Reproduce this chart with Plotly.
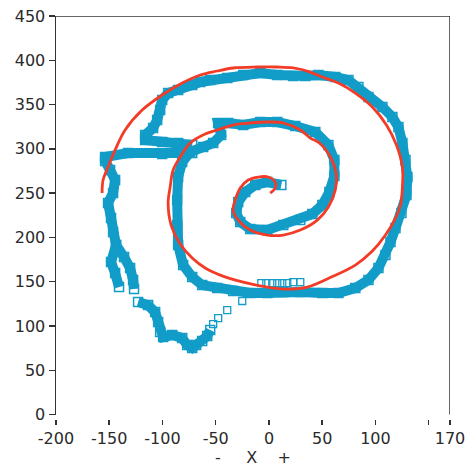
import plotly.graph_objects as go

# Red reference spiral (data units)
spiral_x = [1.2, 5.9, 5.9, -0.7, -10.1, -19.5, -27.0, -31.7, -33.6, -28.9, -17.6, -1.6, 13.4, 29.4, 45.4,
            55.8, 62.3, 63.3, 57.6, 47.3, 38.8, 29.4, 13.4, -1.6, -17.6, -33.6, -48.6, -59.9, -74.0, -83.4,
            -90.0, -92.8, -94.7, -91.9, -83.4, -72.1, -59.9, -45.8, -24.2, -1.6, 17.2, 36.0, 58.6, 81.1,
            97.1, 109.4, 118.8, 123.5, 125.3, 125.3, 119.7, 110.3, 97.1, 81.1, 65.2, 50.1, 38.8, 22.8, 7.8,
            -11.0, -33.6, -48.6, -64.6, -81.5, -100.3, -119.1, -135.1, -144.5, -151.1, -155.8, -156.7]
spiral_y = [250.1, 255.8, 262.5, 268.2, 268.2, 264.8, 255.8, 242.2, 230.9, 219.6, 208.3, 202.7, 202.7, 208.3,
            219.6, 234.3, 253.5, 270.4, 290.8, 306.6, 312.2, 321.3, 329.2, 330.3, 329.2, 326.9, 321.3, 316.7,
            306.6, 290.8, 276.1, 256.9, 238.8, 214.0, 192.5, 176.7, 165.4, 157.5, 149.6, 144.0, 141.7, 144.0,
            155.3, 168.8, 184.6, 202.7, 221.9, 236.6, 256.9, 279.5, 304.3, 326.9, 347.2, 363.0, 374.3, 381.1,
            386.7, 391.3, 392.4, 392.4, 391.3, 387.9, 383.4, 374.3, 360.8, 343.8, 321.3, 298.7, 279.5, 264.8,
            250.1]

# Blue traced path (data units); None separates strokes
trace_x = [11.6, -1.6, -12.9, -22.3, -28.9, -30.7, -27.0, -17.6, -1.6, 13.4, 29.4, 40.7, 50.1, 56.7, 61.4,
           61.4, 55.8, 43.5, 24.7, 7.8, -8.2, -24.2, -38.3, -47.7, -44.9, -52.4, -61.8, -74.0, -81.5, -85.3,
           -86.2, -86.2, -85.3, -80.6, -72.1, -62.7, -48.6, -33.6, -17.6, -1.6, 13.4, 29.4, 50.1, 65.2, 81.1,
           93.4, 102.8, 109.4, 114.1, 118.8, 124.4, 129.1, 130.0, 128.2, 125.3, 121.6, 115.9, 106.5, 93.4,
           84.0, 74.6, 62.3, 46.4, 34.1, 22.8, 7.8, -8.2, -24.2, -39.2, -55.2, -64.6, -72.1, -85.3, -94.7,
           -100.3, -102.2, -105.0, -108.8, -116.3, -116.3, -100.3, -85.3, -72.1,
           None,
           -72.1, -100.3, -132.3, -153.9, -153.9, -149.2, -144.5, -146.4, -151.1, -148.3, -146.4, -143.6,
           -136.1, -130.4, -127.6, -126.7,
           None,
           -143.6, -148.3, -144.5, -140.8,
           None,
           -122.9, -113.5, -106.9, -104.1, -102.2, -99.4, -90.9, -81.5, -76.8, -72.1, -68.4, -62.7, -58.0,
           -55.2]
trace_y = [259.2, 262.5, 259.2, 251.2, 240.0, 227.5, 217.4, 209.5, 208.3, 214.0, 219.6, 226.4, 236.6, 251.2,
           269.3, 287.4, 304.3, 319.0, 325.8, 330.3, 330.3, 326.9, 329.2, 329.2, 315.6, 306.6, 302.1, 296.4,
           285.1, 268.2, 242.2, 214.0, 191.4, 168.8, 155.3, 146.2, 142.8, 139.5, 137.2, 137.2, 138.3, 138.3,
           137.2, 137.2, 142.8, 151.9, 165.4, 180.1, 194.8, 210.6, 227.5, 247.9, 268.2, 287.4, 306.6, 324.6,
           335.9, 347.2, 358.5, 369.8, 377.7, 381.1, 383.4, 382.2, 382.2, 383.4, 385.6, 383.4, 380.0, 377.7,
           375.5, 372.1, 366.4, 363.0, 355.1, 343.8, 332.6, 323.5, 315.6, 310.0, 307.7, 306.6, 304.3,
           None,
           295.3, 294.2, 295.3, 290.8, 286.3, 276.1, 264.8, 250.1, 238.8, 221.9, 206.1, 191.4,
           177.8, 165.4, 151.9, 141.7,
           None,
           191.4, 172.2, 159.8, 144.0,
           None,
           127.0, 123.6, 115.7, 104.5, 93.2, 87.5, 89.8, 86.4, 78.5, 75.1, 78.5, 83.0, 88.6, 95.4]

# Sparse isolated squares
sparse_x = [-52.4, -47.7, -39.2, -25.1, -7.2, -2.5, 3.1, 7.8, 12.5, 17.2, 22.8, 29.4]
sparse_y = [102.2, 109.0, 118.0, 128.2, 148.5, 148.5, 148.5, 148.5, 148.5, 148.5, 149.6, 149.6]

x_tickvals = [-200, -150, -100, -50, 0, 50, 100, 150, 170]
x_ticktext = ["-200", "-150", "-100", "-50", "0", "50", "100", "", "170"]
y_tickvals = [0, 50, 100, 150, 200, 250, 300, 350, 400, 450]

BLUE = "#129cc8"
RED = "#f23c28"
AX = "#333333"

fig = go.Figure()
fig.add_trace(go.Scatter(
    x=trace_x, y=trace_y, mode="lines+markers", connectgaps=False,
    line=dict(color=BLUE, width=10),
    marker=dict(symbol="square-open", size=9, color=BLUE, line=dict(width=1.5, color=BLUE)),
    hoverinfo="skip", showlegend=False))
fig.add_trace(go.Scatter(
    x=sparse_x, y=sparse_y, mode="markers",
    marker=dict(symbol="square-open", size=7, color=BLUE, line=dict(width=1.3, color=BLUE)),
    hoverinfo="skip", showlegend=False))
fig.add_trace(go.Scatter(
    x=spiral_x, y=spiral_y, mode="lines",
    line=dict(color=RED, width=2.8, shape="spline", smoothing=1.0),
    hoverinfo="skip", showlegend=False))

fig.add_shape(type="line", xref="x", yref="y", x0=-200, x1=170, y0=450, y1=450,
              line=dict(color=AX, width=1.5))
fig.add_shape(type="line", xref="x", yref="y", x0=170, x1=170, y0=-2, y1=450,
              line=dict(color=AX, width=1.5))

fig.update_layout(
    width=468, height=472,
    margin=dict(l=56, r=18, t=16, b=53, autoexpand=False),
    paper_bgcolor="white", plot_bgcolor="white",
    font=dict(family="DejaVu Sans", size=16, color="#2a2a2a"),
    xaxis=dict(range=[-200, 170], tickvals=x_tickvals, ticktext=x_ticktext,
               showgrid=False, zeroline=False, showline=False, automargin=False,
               ticks="outside", ticklen=5, tickwidth=1.5, tickcolor=AX,
               anchor="free", position=0,
               title=dict(text="-\u00a0\u00a0\u00a0\u00a0\u00a0X\u00a0\u00a0\u00a0\u00a0+",
                          standoff=4, font=dict(size=16))),
    yaxis=dict(range=[0, 450], tickvals=y_tickvals, domain=[0.011, 1], automargin=False,
               showgrid=False, zeroline=False, showline=True, linecolor=AX, linewidth=1.5,
               ticks="outside", ticklen=6, tickwidth=1.5, tickcolor=AX),
)

fig.write_html("out.html", config={"displayModeBar": False, "staticPlot": True})

# remove the browser's default page margin so the figure sits at the window's top-left
with open("out.html", "r", encoding="utf-8") as f:
    html = f.read()
html = html.replace("<head>", "<head><style>html,body{margin:0;padding:0;overflow:hidden;}</style>", 1)
with open("out.html", "w", encoding="utf-8") as f:
    f.write(html)
